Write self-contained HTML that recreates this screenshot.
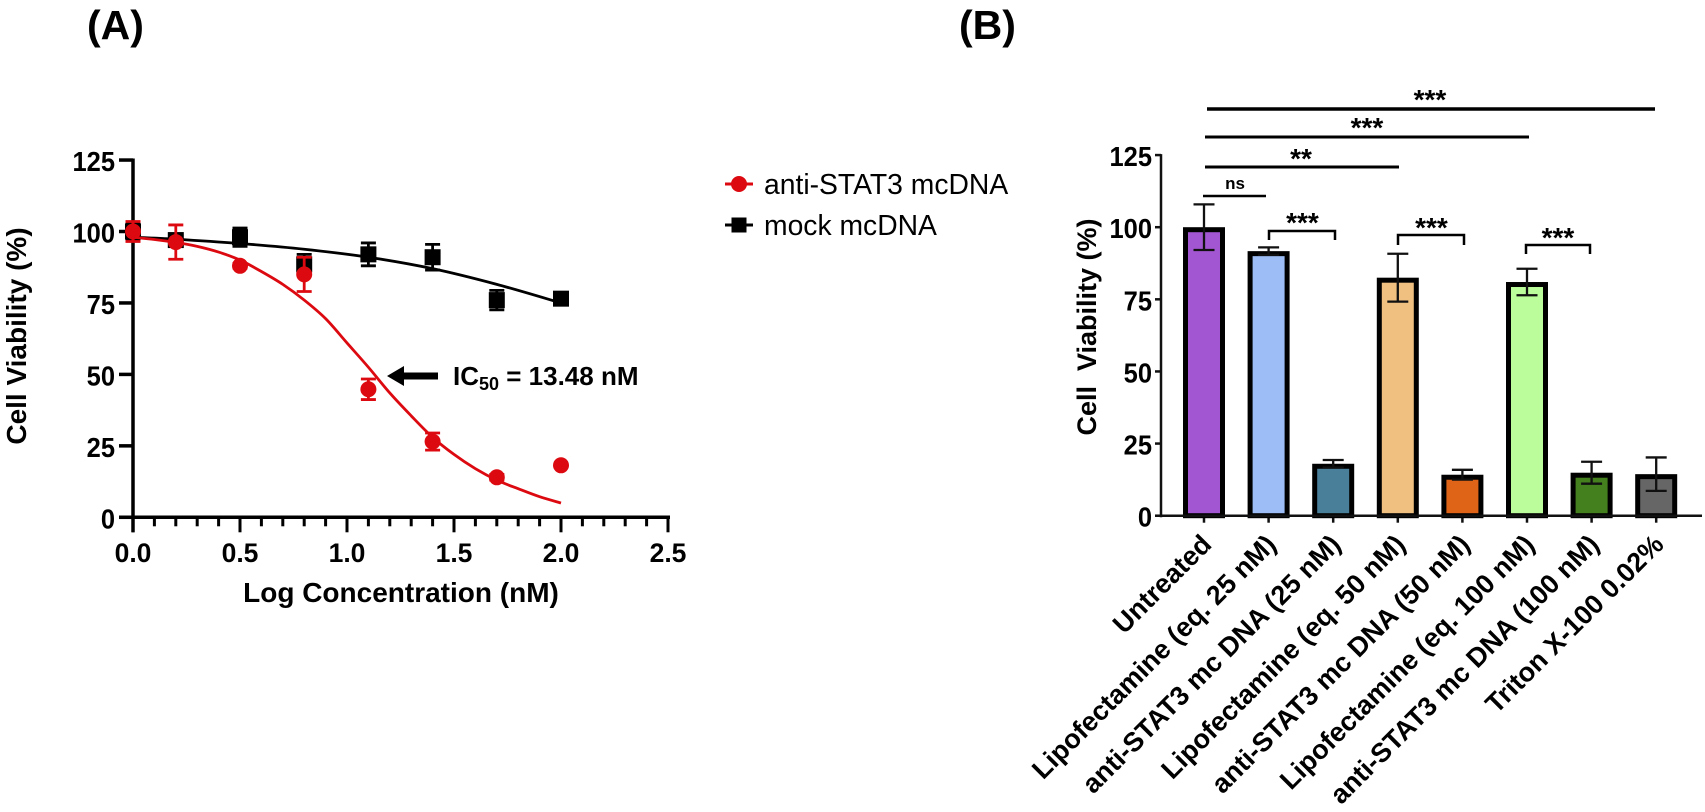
<!DOCTYPE html>
<html>
<head>
<meta charset="utf-8">
<style>
html,body{margin:0;padding:0;background:#fff;}
svg{display:block;font-family:"Liberation Sans",sans-serif;}
text{fill:#000;}
</style>
</head>
<body>
<svg id="fig" width="1705" height="812" viewBox="0 0 1705 812" xmlns="http://www.w3.org/2000/svg">
  <text x="87" y="39" font-size="41" font-weight="bold">(A)</text>
  <text x="959" y="39" font-size="41" font-weight="bold">(B)</text>

  <g id="panelA">
    <text transform="translate(26,336) rotate(-90)" text-anchor="middle" font-size="28" font-weight="bold">Cell Viability (%)</text>
    <text x="401" y="602" text-anchor="middle" font-size="28" font-weight="bold">Log Concentration (nM)</text>
    <g>
      <polygon points="387,376 404,366 404,372.500 438,372.500 438,379.500 404,379.500 404,386" fill="#000"/>
      <text x="453" y="385" font-size="26" font-weight="bold">IC<tspan font-size="18" dy="5">50</tspan><tspan dy="-5"> = 13.48 nM</tspan></text>
    </g>
    <g>
      <g>
        <line x1="725" x2="753" y1="184" y2="184" stroke="#dc0a10" stroke-width="3"/>
        <circle cx="739" cy="184" r="8" fill="#dc0a10"/>
        <text x="764" y="194" font-size="28.3">anti-STAT3 mcDNA</text>
      </g>
      <g>
        <line x1="725" x2="753" y1="225" y2="225" stroke="#000" stroke-width="3"/>
        <rect x="731.500" y="217.500" width="15" height="15" fill="#000"/>
        <text x="764" y="235" font-size="28.3">mock mcDNA</text>
      </g>
    </g>
  </g>

  <g id="panelB">
    <text transform="translate(1096,327) rotate(-90)" text-anchor="middle" font-size="27" font-weight="bold" xml:space="preserve">Cell  Viability (%)</text>
    <g>
      <line x1="1207" x2="1655" y1="109" y2="109" stroke="#000" stroke-width="3.500"/>
      <text x="1430" y="109" text-anchor="middle" font-size="28" font-weight="bold">***</text>
      <line x1="1205" x2="1529" y1="137" y2="137" stroke="#000" stroke-width="3"/>
      <text x="1367" y="137" text-anchor="middle" font-size="28" font-weight="bold">***</text>
      <line x1="1205" x2="1399" y1="167" y2="167" stroke="#000" stroke-width="3"/>
      <text x="1301" y="168" text-anchor="middle" font-size="28" font-weight="bold">**</text>
      <line x1="1203" x2="1266" y1="196" y2="196" stroke="#000" stroke-width="2.500"/>
      <text x="1235" y="189" text-anchor="middle" font-size="17" font-weight="bold">ns</text>
      <path d="M1269 240V231H1335V240" fill="none" stroke="#000" stroke-width="2.500"/>
      <text x="1302.500" y="232" text-anchor="middle" font-size="28" font-weight="bold">***</text>
      <path d="M1398 245V235H1464V245" fill="none" stroke="#000" stroke-width="2.500"/>
      <text x="1431.500" y="237" text-anchor="middle" font-size="28" font-weight="bold">***</text>
      <path d="M1526 254V245H1590V254" fill="none" stroke="#000" stroke-width="2.500"/>
      <text x="1558" y="247" text-anchor="middle" font-size="28" font-weight="bold">***</text>
    </g>
  </g>
</svg>
<script>
/* Panel A data */
const doses = [0, 0.2, 0.5, 0.8, 1.1, 1.4, 1.7, 2.0];
const redValues = [100, 96.3, 88, 85, 44.8, 26.5, 14, 18.2];
const redErrors = [3.5, 6, 0.8, 6, 3.6, 3, 1, 0];
const blackValues = [100, 97, 98, 88.5, 92, 91, 76, 76.5];
const blackErrors = [3, 2, 3.2, 3.5, 4, 4.5, 3.4, 1];
const redFitX = [0, 0.1, 0.2, 0.3, 0.4, 0.5, 0.6, 0.7, 0.8, 0.9, 1.0, 1.1, 1.2, 1.3, 1.4, 1.5, 1.6, 1.7, 1.8, 1.9, 2.0];
const redFitY = [98, 97.2, 96.2, 94.8, 92.8, 90, 86, 81.5, 76, 69.5, 61, 52.5, 43.5, 35.5, 28, 22, 17, 13, 10, 7.2, 5];
const blackFitX = [0, 0.2, 0.5, 0.8, 1.1, 1.4, 1.7, 2.0];
const blackFitY = [98, 97.3, 95.8, 93.8, 91, 87, 81.5, 75];
const xTicksA = ["0.0", "0.5", "1.0", "1.5", "2.0", "2.5"];
const yTicks = ["0", "25", "50", "75", "100", "125"];

/* Panel B data */
const barCategories = ["Untreated", "Lipofectamine (eq. 25 nM)", "anti-STAT3 mc DNA (25 nM)", "Lipofectamine (eq. 50 nM)", "anti-STAT3 mc DNA (50 nM)", "Lipofectamine (eq. 100 nM)", "anti-STAT3 mc DNA (100 nM)", "Triton X-100 0.02%"];
const barValues = [100, 91.7, 18, 82.5, 14.2, 81, 14.9, 14.4];
const barErrors = [7.9, 1.3, 1.3, 8.3, 1.7, 4.6, 3.8, 5.8];
const barColors = ["#a256d2", "#9dbdf7", "#4a7f9a", "#efc080", "#e06418", "#bbfd9a", "#45801f", "#666666"];

const NS = "http://www.w3.org/2000/svg";
const panelA = document.getElementById("panelA");
const panelB = document.getElementById("panelB");

function add(parent, tag, attrs, txt) {
  const el = document.createElementNS(NS, tag);
  for (const k in attrs) el.setAttribute(k, attrs[k]);
  if (txt !== undefined) el.textContent = txt;
  parent.appendChild(el);
  return el;
}
const xA = v => 133 + v * 214;
const yA = v => 517.3 - v * 2.858;
const xB = i => 1204 + i * 64.6;
const yB = v => 515.7 - v * 2.885;

function smooth(xs, ys) {
  const p = xs.map((x, i) => [xA(x), yA(ys[i])]);
  let d = "M" + p[0][0] + " " + p[0][1];
  for (let i = 0; i < p.length - 1; i++) {
    const a = p[Math.max(i - 1, 0)], b = p[i], c = p[i + 1], e = p[Math.min(i + 2, p.length - 1)];
    d += "C" + (b[0] + (c[0] - a[0]) / 6) + " " + (b[1] + (c[1] - a[1]) / 6) + " " + (c[0] - (e[0] - b[0]) / 6) + " " + (c[1] - (e[1] - b[1]) / 6) + " " + c[0] + " " + c[1];
  }
  return d;
}

/* Panel A axes */
const axisA = add(panelA, "g", {});


const yLineA = add(axisA, "line", {x1: xA(0), x2: xA(0), y1: yA(125) - 1.5, y2: yA(0) + 15, stroke: "#000", "stroke-width": 3.5});


const xLineA = add(axisA, "line", {x1: xA(0) - 14, x2: xA(2.5) + 2, y1: yA(0), y2: yA(0), stroke: "#000", "stroke-width": 3.5});



yTicks.forEach(t => {
  const v = Number(t);
  const tick = add(axisA, "line", {x1: xA(0) - 14, x2: xA(0), y1: yA(v), y2: yA(v), stroke: "#000", "stroke-width": 3.5});
  
  
  const lab = add(axisA, "text", {transform: "translate(115," + (yA(v) + 11) + ") scale(0.91,1)", "text-anchor": "end", "font-size": 28, "font-weight": "bold"}, t);
  
  
});
for (let n = 0; n <= 25; n++) {
  const major = n % 5 === 0;
  const tick = add(axisA, "line", {x1: xA(n / 10), x2: xA(n / 10), y1: yA(0), y2: yA(0) + (major ? 15 : 9), stroke: "#000", "stroke-width": 3});
  
  
}
xTicksA.forEach(t => {
  const lab = add(axisA, "text", {x: xA(Number(t)), y: 562, "text-anchor": "middle", "font-size": 26.5, "font-weight": "bold"}, t);
  
  
});

/* Panel A series */
function errorBar(parent, x, yTop, yBot, hw, color, sw) {
  const d = "M" + (x - hw) + " " + yTop + "H" + (x + hw) + "M" + x + " " + yTop + "V" + yBot + "M" + (x - hw) + " " + yBot + "H" + (x + hw);
  const e = add(parent, "path", {d: d, fill: "none", stroke: color, "stroke-width": sw});
  
  
}
const blackG = add(panelA, "g", {});


const blackCurve = add(blackG, "path", {d: smooth(blackFitX, blackFitY), fill: "none", stroke: "#000", "stroke-width": 2.8});


doses.forEach((d, i) => {
  errorBar(blackG, xA(d), yA(blackValues[i] + blackErrors[i]), yA(blackValues[i] - blackErrors[i]), 7.5, "#000", 2.8);
  const m = add(blackG, "rect", {x: xA(d) - 8, y: yA(blackValues[i]) - 8, width: 16, height: 16, fill: "#000"});
  
  
});
const redG = add(panelA, "g", {});


const redCurve = add(redG, "path", {d: smooth(redFitX, redFitY), fill: "none", stroke: "#dc0a10", "stroke-width": 2.8});


doses.forEach((d, i) => {
  if (redErrors[i] > 0) errorBar(redG, xA(d), yA(redValues[i] + redErrors[i]), yA(redValues[i] - redErrors[i]), 7.5, "#dc0a10", 2.8);
  const m = add(redG, "circle", {cx: xA(d), cy: yA(redValues[i]), r: 8, fill: "#dc0a10"});
  
  
});

/* Panel B axes and bars */
const axisB = add(panelB, "g", {});


const yLineB = add(axisB, "line", {x1: 1161, x2: 1161, y1: yB(125) - 1, y2: yB(0) + 1.5, stroke: "#111", "stroke-width": 2.5});


yTicks.forEach(t => {
  const v = Number(t);
  const tick = add(axisB, "line", {x1: 1155, x2: 1161, y1: yB(v), y2: yB(v), stroke: "#111", "stroke-width": 2.5});
  
  
  const lab = add(axisB, "text", {transform: "translate(1152," + (yB(v) + 11) + ") scale(0.91,1)", "text-anchor": "end", "font-size": 28, "font-weight": "bold"}, t);
  
  
});
barCategories.forEach((c, i) => {
  const x = xB(i);
  const top = yB(barValues[i]);
  const bar = add(panelB, "rect", {x: x - 18.5, y: top + 2.5, width: 37, height: yB(0) - top - 2.5, fill: barColors[i], stroke: "#000", "stroke-width": 5});
  
  
  errorBar(panelB, x, yB(barValues[i] + barErrors[i]), yB(barValues[i] - barErrors[i]), 10.5, "#111", 2.3);
  const tick = add(axisB, "line", {x1: x, x2: x, y1: yB(0), y2: yB(0) + 7, stroke: "#111", "stroke-width": 2.5});
  
  
  const lab = add(axisB, "text", {transform: "translate(" + (x + 9) + ",546) rotate(-45)", "text-anchor": "end", "font-size": 27, "font-weight": "bold"}, c);
  
  
});
const xLineB = add(panelB, "line", {x1: 1155, x2: 1702, y1: yB(0), y2: yB(0), stroke: "#111", "stroke-width": 2.5});


</script>
</body>
</html>
